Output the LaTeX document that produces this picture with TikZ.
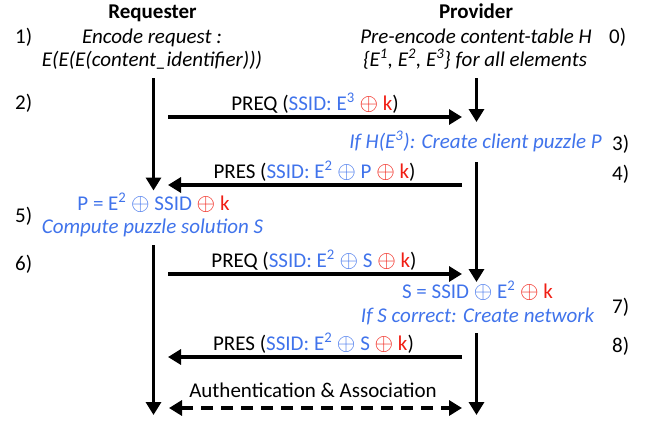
\documentclass[tikz,border=0pt]{standalone}
\usepackage{fontspec}
\setmainfont{Carlito}
\usetikzlibrary{arrows.meta}
\definecolor{myblue}{RGB}{64,115,235}
\definecolor{myred}{RGB}{240,30,20}
\newcommand{\fs}{\fontsize{21}{23}\selectfont}
\newcommand{\bx}{{\color{myblue}\raisebox{-0.5pt}{\scalebox{1.15}{$\oplus$}}}}
\newcommand{\rx}{{\color{myred}\raisebox{-0.5pt}{\scalebox{1.15}{$\oplus$}}}}
\newcommand{\sq}[1]{\textsuperscript{#1}}
\begin{document}
\begin{tikzpicture}[x=1pt,y=-1pt,
  txt/.style={anchor=base, inner sep=0pt, font=\fs},
  num/.style={anchor=base west, inner sep=0pt, font=\fs},
  flow/.style={line width=3.2pt, -{Triangle[length=13pt,width=15pt]}},
  auth/.style={line width=3.2pt, dash pattern=on 12pt off 8pt,
    {Triangle[length=13pt,width=15pt]}-{Triangle[length=13pt,width=15pt]}}]
\useasboundingbox (0,0) rectangle (650,424);

% headers
\node[txt] (req) at (152.5,18) {\bfseries Requester};
\node[txt] (prov) at (476,18) {\bfseries Provider};

% step numbers
\node[num] (n1) at (15,43) {1)};
\node[num] (n0) at (609,43) {0)};
\node[num] (n2) at (15,109) {2)};
\node[num] (n3) at (612,150) {3)};
\node[num] (n4) at (612,180) {4)};
\node[num] (n5) at (15,222) {5)};
\node[num] (n6) at (15,270) {6)};
\node[num] (n7) at (612,313) {7)};
\node[num] (n8) at (612,352) {8)};

% texts
\node[txt] (enc1) at (152,43) {\itshape Encode request :};
\node[txt] (enc2) at (152,66) {\itshape E(E(E(content\_identifier)))};
\node[txt] (pre1) at (476,43) {\itshape Pre-encode content-table H};
\node[txt] (pre2) at (475,66) {\itshape \{E\sq{1}, E\sq{2}, E\sq{3}\} for all elements};
\node[txt] (puz) at (475.5,148) {\color{myblue}\itshape If H(E\sq{3}): Create client puzzle P};
\node[txt] (peq) at (153.5,210) {\color{myblue}P = E\sq{2} \bx{} SSID \rx{} {\color{myred}k}};
\node[txt] (comp) at (152.5,233) {\color{myblue}\itshape Compute puzzle solution S};
\node[txt] (seq) at (477.5,298) {\color{myblue}S = SSID \bx{} E\sq{2} \rx{} {\color{myred}k}};
\node[txt] (corr) at (477.5,322) {\color{myblue}\itshape If S correct: Create network};

% message labels
\node[txt] (l1) at (315,110) {PREQ ({\color{myblue}SSID: E\sq{3}} \rx{} {\color{myred}k})};
\node[txt] (l2) at (314.5,178) {PRES ({\color{myblue}SSID: E\sq{2} \bx{} P} \rx{} {\color{myred}k})};
\node[txt] (l3) at (314,267) {PREQ ({\color{myblue}SSID: E\sq{2} \bx{} S} \rx{} {\color{myred}k})};
\node[txt] (l4) at (313.5,350) {PRES ({\color{myblue}SSID: E\sq{2} \bx{} S} \rx{} {\color{myred}k})};
\node[txt] (l5) at (313,397) {Authentication \& Association};

% lifeline coordinates
\coordinate (La) at (153.5,78);
\coordinate (Lb) at (153.5,190.5);
\coordinate (Lc) at (153.5,245);
\coordinate (Ld) at (153.5,415);
\coordinate (Ra) at (476.5,78);
\coordinate (Rb) at (476.5,122);
\coordinate (Rc) at (476.5,162);
\coordinate (Rd) at (476.5,282);
\coordinate (Re) at (476.5,333);
\coordinate (Rf) at (476.5,415);

% message coordinates
\coordinate (m1a) at (168,117);   \coordinate (m1b) at (462,117);
\coordinate (m2a) at (462,185);   \coordinate (m2b) at (168,185);
\coordinate (m3a) at (168,274);   \coordinate (m3b) at (462,274);
\coordinate (m4a) at (462,357);   \coordinate (m4b) at (168,357);
\coordinate (m5a) at (169,408);   \coordinate (m5b) at (462,408);

% lifelines
\draw[flow] (La) -- (Lb);
\draw[flow] (Lc) -- (Ld);
\draw[flow] (Ra) -- (Rb);
\draw[flow] (Rc) -- (Rd);
\draw[flow] (Re) -- (Rf);

% messages
\draw[flow] (m1a) -- (m1b);
\draw[flow] (m2a) -- (m2b);
\draw[flow] (m3a) -- (m3b);
\draw[flow] (m4a) -- (m4b);
\draw[auth] (m5a) -- (m5b);
\end{tikzpicture}
\end{document}
